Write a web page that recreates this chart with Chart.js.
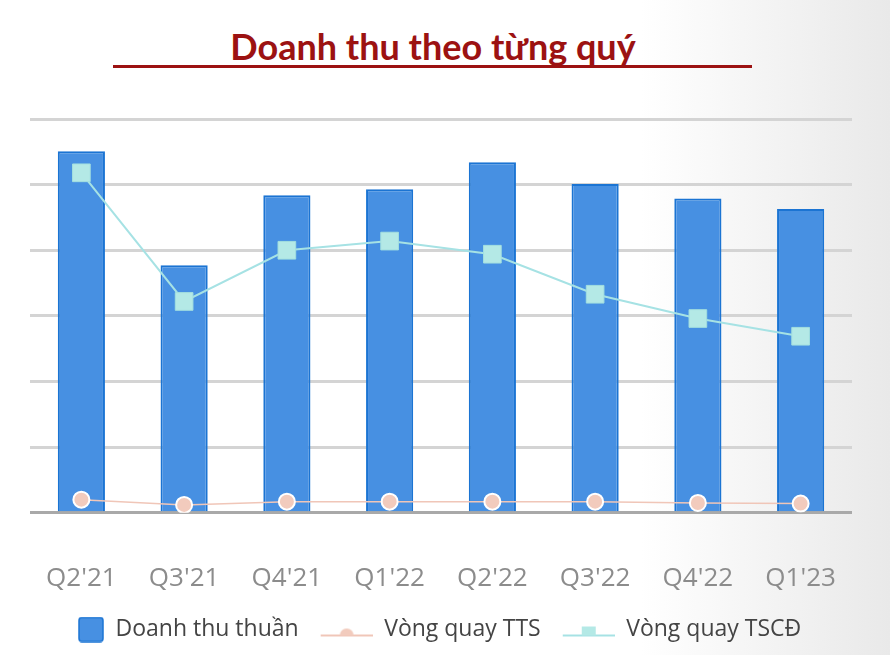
<!DOCTYPE html>
<html>
<head>
<meta charset="utf-8">
<script src="https://cdn.jsdelivr.net/npm/chart.js@4"></script>
<style>
  html, body { margin: 0; padding: 0; }
  body {
    width: 890px; height: 655px; overflow: hidden; position: relative;
    background: linear-gradient(to right, #ffffff 0%, #ffffff 72%, #e9e9e9 100%);
    font-family: 'Open Sans', sans-serif;
  }
  #title {
    position: absolute; left: 0; width: 866px; top: 24px;
    text-align: center; font-family: Lato, sans-serif; font-weight: 700;
    font-size: 36px; color: #9c1212; line-height: 44px;
  }
  #rule {
    position: absolute; left: 113px; top: 65px; width: 639px; height: 3px;
    background: #9c1212;
  }
  #wrap { position: absolute; left: 0; top: 96px; width: 890px; height: 559px; }
</style>
</head>
<body>
<div id="title">Doanh thu theo từng quý</div>
<div id="rule"></div>
<div id="wrap"><canvas id="chart"></canvas></div>
<script>
// Doanh thu theo từng quý (no y scale shown; values in grid units)
const quarters = ["Q2'21", "Q3'21", "Q4'21", "Q1'22", "Q2'22", "Q3'22", "Q4'22", "Q1'23"];
const doanhThu = [5.51, 3.77, 4.84, 4.93, 5.34, 5.01, 4.79, 4.63];
const vongQuayTTS = [0.20, 0.12, 0.17, 0.17, 0.17, 0.17, 0.15, 0.14];
const vongQuayTSCD = [5.18, 3.22, 4.00, 4.14, 3.94, 3.33, 2.96, 2.69];

const colors = {
    bar: '#4790e2',
    barBorder: '#1b74d3',
    tts: '#f0c6b8',
    ttsPoint: '#f2cbbd',
    tscd: '#a6e2e4',
    tscdPoint: '#b4e9e6'
};

// legend icons (60 wide, left 8px kept empty as spacing)
function legendBox() {
    const c = document.createElement('canvas');
    c.width = 60; c.height = 26;
    const g = c.getContext('2d');
    g.fillStyle = colors.bar;
    g.strokeStyle = colors.barBorder;
    g.lineWidth = 1.5;
    g.beginPath();
    g.roundRect(35, 1, 24, 24, 3);
    g.fill();
    g.stroke();
    return c;
}

function legendLine(color, pointColor, square) {
    const c = document.createElement('canvas');
    c.width = 60; c.height = 26;
    const g = c.getContext('2d');
    g.strokeStyle = color;
    g.lineWidth = 2;
    g.beginPath();
    g.moveTo(8, 19); g.lineTo(60, 19);
    g.stroke();
    g.fillStyle = pointColor;
    if (square) {
        g.fillRect(27, 10, 14, 9);
    } else {
        g.beginPath();
        g.arc(34, 19, 7, Math.PI, 0);
        g.fill();
    }
    return c;
}

const ctx = document.getElementById('chart').getContext('2d');

new Chart(ctx, {
    type: 'bar',
    data: {
        labels: quarters,
        datasets: [
            {
                type: 'bar',
                label: 'Doanh thu thuần',
                data: doanhThu,
                backgroundColor: colors.bar,
                borderColor: colors.barBorder,
                borderWidth: 2,
                barPercentage: 0.9,
                categoryPercentage: 0.51,
                order: 3
            },
            {
                type: 'line',
                label: 'Vòng quay TTS',
                data: vongQuayTTS,
                borderColor: colors.tts,
                borderWidth: 1.5,
                pointRadius: 8,
                pointBackgroundColor: colors.ttsPoint,
                pointBorderColor: '#ffffff',
                pointBorderWidth: 2,
                tension: 0,
                order: 1,
                pointStyle: 'circle'
            },
            {
                type: 'line',
                label: 'Vòng quay TSCĐ',
                data: vongQuayTSCD,
                borderColor: colors.tscd,
                borderWidth: 2,
                pointStyle: 'rect',
                pointRadius: 12.5,
                pointBackgroundColor: colors.tscdPoint,
                pointBorderColor: '#a3dfdf',
                pointBorderWidth: 1,
                tension: 0,
                order: 2
            }
        ]
    },
    options: {
        responsive: true,
        maintainAspectRatio: false,
        animation: false,
        layout: { padding: { left: 30, right: 38, top: 23, bottom: 4 } },
        plugins: {
            legend: {
                position: 'bottom',
                align: 'start',
                labels: {
                    usePointStyle: true,
                    pointStyleWidth: 60,
                    boxHeight: 20,
                    padding: 14,
                    color: '#444444',
                    font: { family: 'Open Sans', size: 23 },
                    generateLabels: (chart) => {
                        const icons = [
                            legendBox(),
                            legendLine(colors.tts, colors.ttsPoint, false),
                            legendLine(colors.tscd, colors.tscdPoint, true)
                        ];
                        return chart.data.datasets.map((d, i) => ({
                            text: d.label,
                            pointStyle: icons[i],
                            fillStyle: 'transparent',
                            strokeStyle: 'transparent',
                            lineWidth: 0,
                            fontColor: '#444444',
                            datasetIndex: i,
                            hidden: false
                        }));
                    }
                }
            },
            tooltip: { enabled: false }
        },
        scales: {
            x: {
                grid: { display: false },
                border: { display: false },
                afterFit: (axis) => { axis.height -= 32; },
                ticks: {
                    color: '#8c8c8c',
                    font: { family: 'Open Sans', size: 26 },
                    padding: 42,
                    maxRotation: 0
                }
            },
            y: {
                min: 0,
                max: 6,
                border: { display: false },
                grid: {
                    drawTicks: false,
                    lineWidth: 3,
                    color: (c) => c.index === 0 ? '#a9a9a9' : '#d4d4d4'
                },
                ticks: { display: false, stepSize: 1 }
            }
        }
    }
});
</script>
</body>
</html>
